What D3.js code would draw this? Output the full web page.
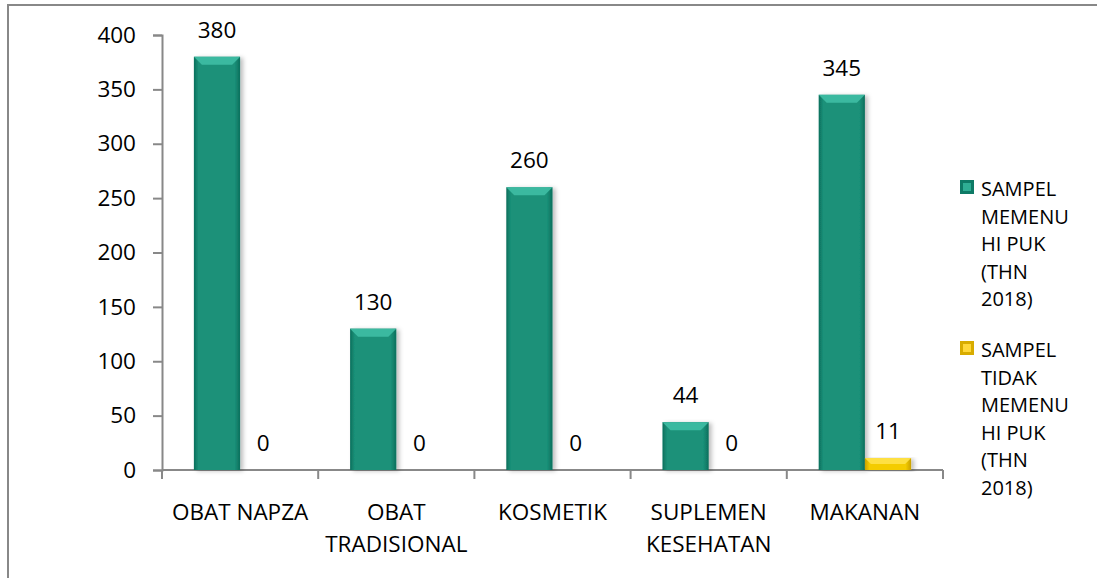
<!DOCTYPE html>
<html>
<head>
<meta charset="UTF-8">
<script src="https://d3js.org/d3.v7.min.js"></script>
<style>
  body { margin: 0; background: #fff; font-family: "Open Sans", Arial, sans-serif; }
  text { font-family: "Open Sans", Arial, sans-serif; font-size: 22.5px; fill: #000; }
</style>
</head>
<body>
<div id="chart"></div>
<script>
const categories = [["OBAT NAPZA"], ["OBAT", "TRADISIONAL"], ["KOSMETIK"], ["SUPLEMEN", "KESEHATAN"], ["MAKANAN"]];
const memenuhi = [380, 130, 260, 44, 345];
const tidakMemenuhi = [0, 0, 0, 0, 11];
const seriesNames = [
  ["SAMPEL", "MEMENU", "HI PUK", "(THN", "2018)"],
  ["SAMPEL", "TIDAK", "MEMENU", "HI PUK", "(THN", "2018)"]
];
const yTicks = [0, 50, 100, 150, 200, 250, 300, 350, 400];

const W = 1097, H = 578;
const svg = d3.select("#chart").append("svg").attr("width", W).attr("height", H);

// chart border
svg.append("rect").attr("x", 8).attr("y", 5).attr("width", 1200).attr("height", 700)
  .attr("fill", "none").attr("stroke", "#888").attr("stroke-width", 2);

const defs = svg.append("defs");
function grad(id, edge, face) {
  const g = defs.append("linearGradient").attr("id", id).attr("x1", 0).attr("x2", 1).attr("y1", 0).attr("y2", 0);
  g.append("stop").attr("offset", 0).attr("stop-color", edge);
  g.append("stop").attr("offset", 0.1).attr("stop-color", face);
  g.append("stop").attr("offset", 0.88).attr("stop-color", face);
  g.append("stop").attr("offset", 1).attr("stop-color", edge);
}
grad("gGreen", "#0c6f5c", "#1a9179");
grad("gYellow", "#c9a000", "#f4cc00");
const sh = defs.append("filter").attr("id", "shadow").attr("x", "-20%").attr("y", "-5%").attr("width", "150%").attr("height", "115%");
sh.append("feDropShadow").attr("dx", 3).attr("dy", 1).attr("stdDeviation", 2).attr("flood-color", "#000").attr("flood-opacity", 0.25);

const x = d3.scaleBand().domain(d3.range(categories.length)).range([162, 943]).padding(0);
const x1 = d3.scaleBand().domain([0, 1]).range([0, x.bandwidth()]).paddingInner(0).paddingOuter(0.69);
const y = d3.scaleLinear().domain([0, 400]).range([470, 35]);

// y axis
const yAxis = svg.append("g").attr("transform", "translate(162,0)")
  .call(d3.axisLeft(y).tickValues(yTicks).tickSize(9).tickPadding(17));
yAxis.select(".domain").attr("stroke", "#888").attr("stroke-width", 2);
yAxis.selectAll(".tick line").attr("stroke", "#888").attr("stroke-width", 2);
yAxis.selectAll(".tick text").attr("font-size", "22.5px").attr("font-family", "Open Sans").attr("fill", "#000");

// x axis
const xAxisG = svg.append("g").attr("transform", "translate(0,470)");
xAxisG.append("line").attr("x1", 162).attr("x2", 943).attr("stroke", "#888").attr("stroke-width", 2);
xAxisG.selectAll(".xt").data(d3.range(categories.length + 1)).enter().append("line")
  .attr("x1", i => 162 + i * x.step()).attr("x2", i => 162 + i * x.step())
  .attr("y1", 0).attr("y2", 9).attr("stroke", "#888").attr("stroke-width", 2);
const xl = svg.selectAll(".xlab").data(categories).enter().append("text")
  .attr("text-anchor", "middle")
  .attr("transform", (d, i) => `translate(${x(i) + x.bandwidth() / 2},520)`);
xl.selectAll("tspan").data(d => d).enter().append("tspan")
  .attr("x", 0).attr("y", (d, j) => j * 32).text(d => d);

// bars
const series = [memenuhi, tidakMemenuhi];
const fills = ["url(#gGreen)", "url(#gYellow)"];
const bevel = ["#3fbea4", "#ffe24a"];
series.forEach((vals, s) => {
  const g = svg.append("g");
  vals.forEach((v, i) => {
    const bx = x(i) + x1(s), bw = x1.bandwidth(), top = y(v), h = y(0) - y(v);
    if (h > 0) {
      g.append("rect").attr("x", bx).attr("y", top).attr("width", bw).attr("height", h)
        .attr("fill", fills[s]).attr("filter", "url(#shadow)");
      const b = Math.min(8, h / 2);
      g.append("path")
        .attr("d", `M${bx},${top}L${bx + bw},${top}L${bx + bw - b},${top + b}L${bx + b},${top + b}Z`)
        .attr("fill", bevel[s]).attr("opacity", 0.9);
    }
    svg.append("text").attr("text-anchor", "middle")
      .attr("x", bx + bw / 2).attr("y", top - 19).text(v);
  });
});

// legend
const legendY = [196, 357];
const swatch = [["#0e7a66", "#2fae94"], ["#d8ac00", "#ffd83a"]];
seriesNames.forEach((lines, s) => {
  const ly = legendY[s];
  svg.append("rect").attr("x", 960).attr("y", ly - 16).attr("width", 14).attr("height", 14).attr("fill", swatch[s][0]);
  svg.append("rect").attr("x", 963).attr("y", ly - 13).attr("width", 8).attr("height", 8).attr("fill", swatch[s][1]);
  const t = svg.append("text").attr("x", 981).attr("y", ly).style("font-size", "20px");
  t.selectAll("tspan").data(lines).enter().append("tspan")
    .attr("x", 981).attr("y", (d, j) => ly + j * 27.5).text(d => d);
});
</script>
</body>
</html>
